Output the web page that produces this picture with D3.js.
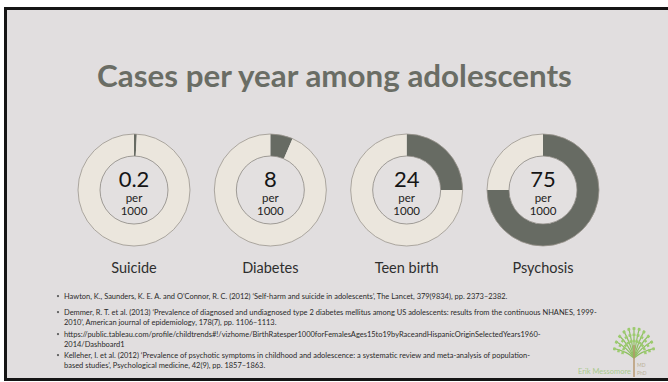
<!DOCTYPE html>
<html>
<head>
<meta charset="utf-8">
<script src="https://cdn.jsdelivr.net/npm/d3@7"></script>
<style>
  html, body { margin: 0; padding: 0; background: #ffffff; }
  svg { display: block; }
</style>
</head>
<body>
<script>
// ---- data ----
const categories = ["Suicide", "Diabetes", "Teen birth", "Psychosis"];
const values = ["0.2", "8", "24", "75"];          // cases per 1000
const ringShares = [0.8, 6.5, 25, 75];             // dark share of each ring (%) as drawn
const unitLine1 = "per";
const unitLine2 = "1000";
const titleText = "Cases per year among adolescents";
const references = [
  ["Hawton, K., Saunders, K. E. A. and O\u2019Connor, R. C. (2012) \u2018Self-harm and suicide in adolescents\u2019, The Lancet, 379(9834), pp. 2373\u20132382."],
  ["Demmer, R. T. et al. (2013) \u2018Prevalence of diagnosed and undiagnosed type 2 diabetes mellitus among US adolescents: results from the continuous NHANES, 1999-",
   "2010\u2019, American journal of epidemiology, 178(7), pp. 1106\u20131113."],
  ["https://public.tableau.com/profile/childtrends#!/vizhome/BirthRatesper1000forFemalesAges15to19byRaceandHispanicOriginSelectedYears1960-",
   "2014/Dashboard1"],
  ["Kelleher, I. et al. (2012) \u2018Prevalence of psychotic symptoms in childhood and adolescence: a systematic review and meta-analysis of population-",
   "based studies\u2019, Psychological medicine, 42(9), pp. 1857\u20131863."]
];

// ---- layout ----
const W = 668, H = 382;
const svg = d3.select("body").append("svg").attr("width", W).attr("height", H);
const FONT = "Lato, 'Open Sans', sans-serif";

// slide
svg.append("rect").attr("x", 5.5).attr("y", 8.5).attr("width", W + 10).attr("height", 371)
  .attr("fill", "#e1dedf").attr("stroke", "#151515").attr("stroke-width", 3);

// title
const title = svg.append("text").attr("x", 334.5).attr("y", 87).attr("text-anchor", "middle")
  .attr("font-family", FONT).attr("font-weight", 700).attr("font-size", 30)
  .attr("fill", "#6a6d65").text(titleText);
const tw = title.node().getComputedTextLength();
title.attr("font-size", 30 * 475 / tw);

// donuts
const x = d3.scalePoint().domain(categories).range([134, 543]);
const cy = 190, rOut = 56, rIn = 34;
const pie = d3.pie().sort(null).value(d => d);
const arc = d3.arc().innerRadius(rIn).outerRadius(rOut);
const colors = ["#676b63", "#ebe6dd"];

categories.forEach((c, i) => {
  const g = svg.append("g").attr("transform", `translate(${x(c)},${cy})`);
  g.selectAll("path").data(pie([ringShares[i], 100 - ringShares[i]])).join("path")
    .attr("d", arc).attr("fill", (d, j) => colors[j]);
  g.append("circle").attr("r", rOut).attr("fill", "none").attr("stroke", "#9a958e").attr("stroke-width", 0.8);
  g.append("circle").attr("r", rIn).attr("fill", "#e3e0e0").attr("stroke", "#8d8983").attr("stroke-width", 0.8);
  g.append("text").attr("y", -3).attr("text-anchor", "middle").attr("font-family", FONT)
    .attr("font-size", 22).attr("fill", "#151515").text(values[i]);
  g.append("text").attr("y", 12).attr("text-anchor", "middle").attr("font-family", FONT)
    .attr("font-size", 11.5).attr("fill", "#222").text(unitLine1);
  g.append("text").attr("y", 25).attr("text-anchor", "middle").attr("font-family", FONT)
    .attr("font-size", 11.5).attr("fill", "#222").text(unitLine2);
  svg.append("text").attr("x", x(c)).attr("y", 273).attr("text-anchor", "middle")
    .attr("font-family", FONT).attr("font-size", 14.5).attr("fill", "#2e2e2e").text(c);
});

// references
const refY = [[298.5], [314.5, 325], [336.5, 347], [357.5, 368]];
const refG = svg.append("g").attr("font-family", FONT).attr("fill", "#2a2a2a");
const probe = refG.append("text").attr("font-size", 7).text(references[1][0]);
const pw = probe.node().getComputedTextLength();
probe.remove();
const refSize = 7 * 533 / pw;
references.forEach((lines, i) => {
  refG.append("circle").attr("cx", 58).attr("cy", refY[i][0] - refSize * 0.33).attr("r", 1.1).attr("fill", "#555");
  lines.forEach((ln, k) => {
    refG.append("text").attr("x", 64).attr("y", refY[i][k]).attr("font-size", refSize).text(ln);
  });
});

// logo (decorative tree)
const logo = svg.append("g");
const base = [634, 358];
const branchAngles = [-78, -62, -46, -30, -15, 0, 15, 30, 46, 62, 78];
branchAngles.forEach(a => {
  const rad = a * Math.PI / 180;
  const ex = base[0] + Math.sin(rad) * 21, ey = base[1] - Math.cos(rad) * 27 - 4;
  const mx = base[0] + Math.sin(rad) * 8, my = base[1] - Math.cos(rad) * 14 - 4;
  logo.append("path").attr("d", `M${base[0]},${base[1]} Q${mx},${my} ${ex},${ey}`)
    .attr("fill", "none").attr("stroke", "#8fbf63").attr("stroke-width", 1.2);
  [0.55, 0.75, 0.95].forEach(t => {
    const px = base[0] + Math.sin(rad) * 21 * t, py = base[1] - (Math.cos(rad) * 27 + 4) * t;
    [-55, 55].forEach(o => {
      logo.append("ellipse").attr("cx", px).attr("cy", py).attr("rx", 1.8).attr("ry", 0.9)
        .attr("transform", `rotate(${a - 90 + o},${px},${py})`).attr("fill", "#9ccb6e");
    });
  });
});
logo.append("line").attr("x1", 634).attr("y1", 345).attr("x2", 634).attr("y2", 377)
  .attr("stroke", "#b5946a").attr("stroke-width", 1.4);
logo.append("text").attr("x", 631).attr("y", 374).attr("text-anchor", "end")
  .attr("font-family", FONT).attr("font-size", 7.5).attr("fill", "#a9c98c").text("Erik Messomore");
logo.append("text").attr("x", 637).attr("y", 367).attr("font-family", FONT)
  .attr("font-size", 5).attr("fill", "#b9b196").text("MD");
logo.append("text").attr("x", 637).attr("y", 375).attr("font-family", FONT)
  .attr("font-size", 5).attr("fill", "#b9b196").text("PhD");
</script>
</body>
</html>
